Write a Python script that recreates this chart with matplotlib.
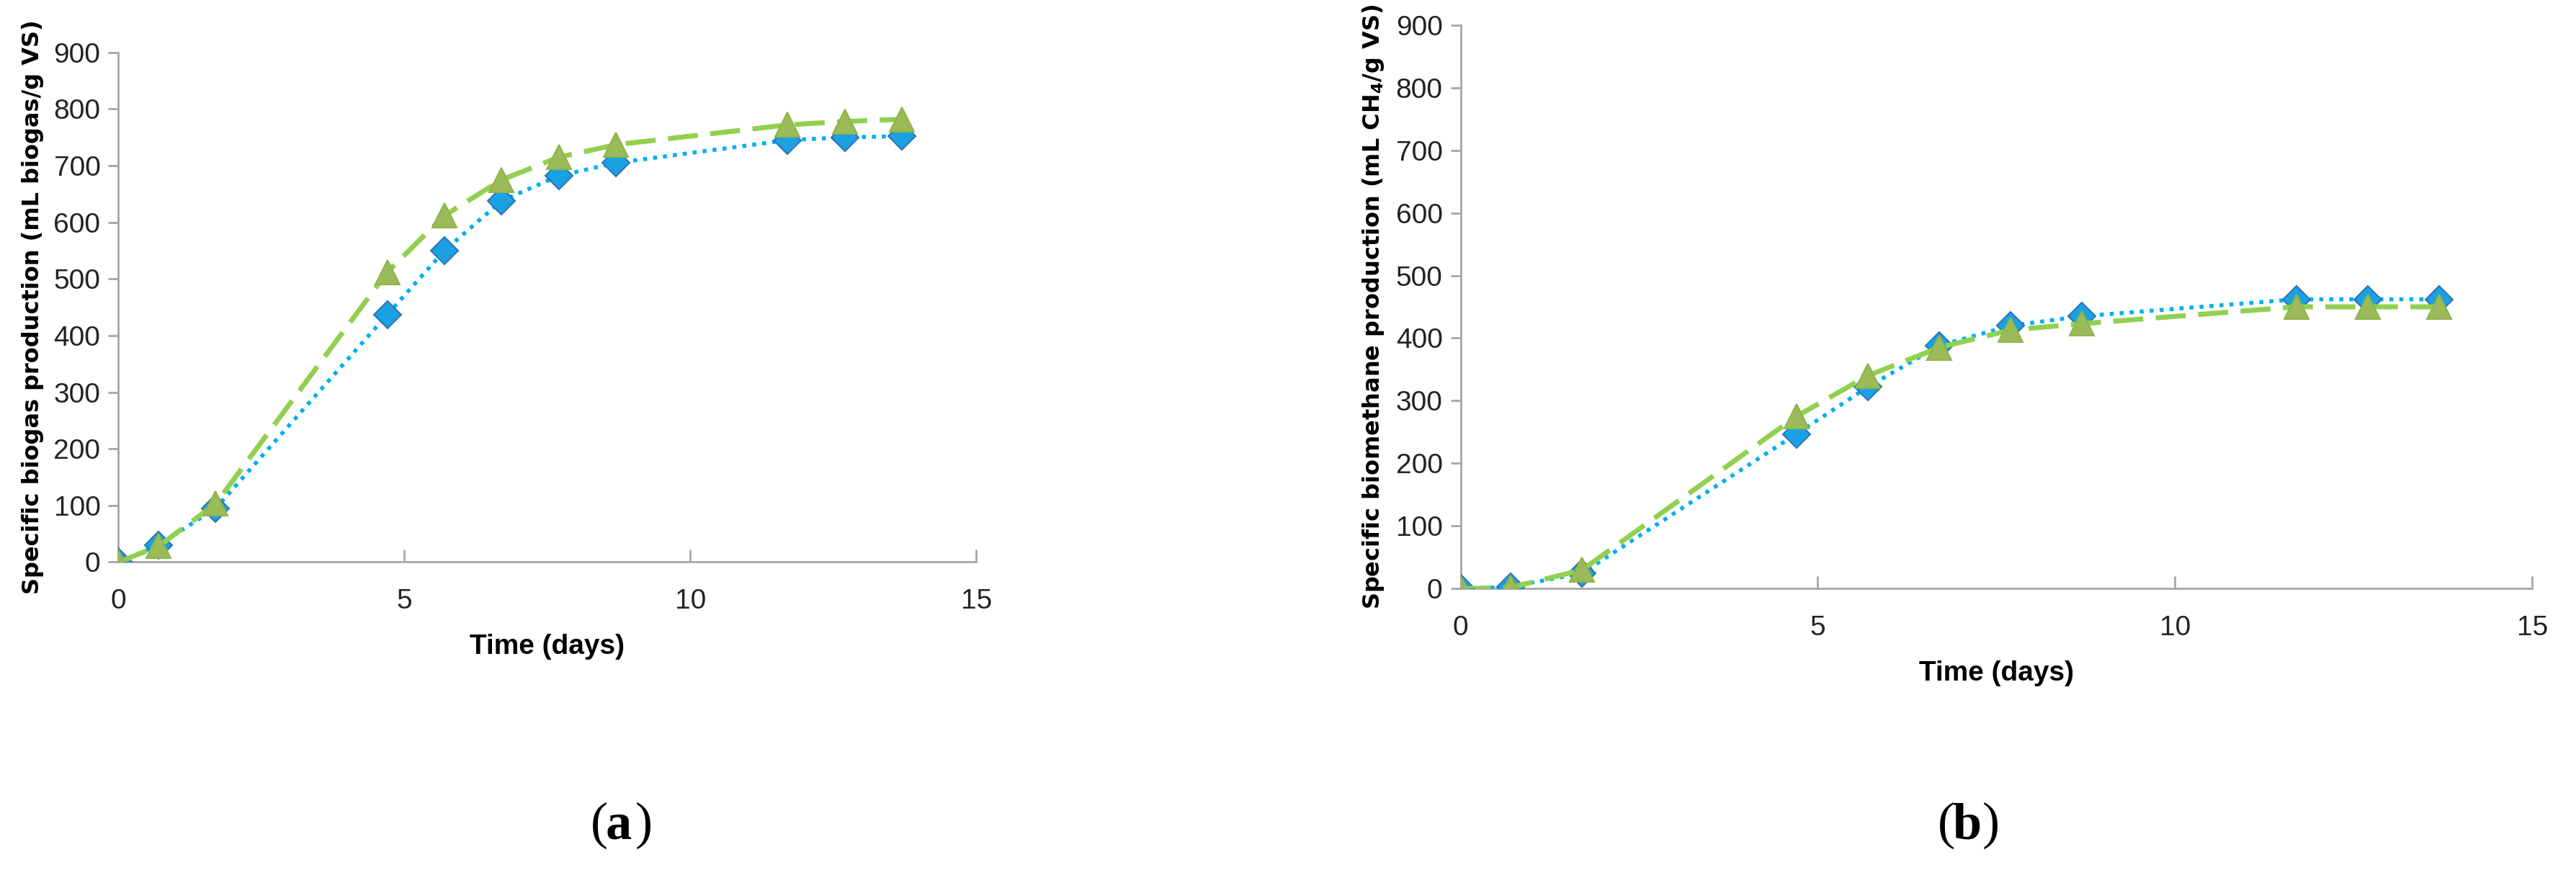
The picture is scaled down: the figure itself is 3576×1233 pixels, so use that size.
import matplotlib.pyplot as plt

days = [0, 0.7, 1.7, 4.7, 5.7, 6.7, 7.7, 8.7, 11.7, 12.7, 13.7]
biogas_blue = [0, 30, 95, 437, 550, 638, 682, 705, 745, 750, 752]
biogas_green = [0, 28, 103, 512, 612, 675, 715, 737, 772, 778, 782]
methane_blue = [0, 3, 25, 247, 322, 388, 420, 435, 462, 462, 462]
methane_green = [0, 2, 30, 275, 340, 385, 413, 423, 450, 450, 450]
x_ticks = [0, 5, 10, 15]
y_ticks = list(range(0, 1000, 100))

tick_font = ['Liberation Sans', 'DejaVu Sans']
label_font = ['DejaVu Sans']

fig = plt.figure(figsize=(35.76, 12.33), dpi=100)
ax_a = fig.add_axes([0.046, 0.367, 0.333, 0.574])
ax_b = fig.add_axes([0.567, 0.337, 0.416, 0.635])


def draw(ax, blue, green, ylabel):
    ax.plot(days, blue, linestyle=(0, (1, 1.5)), color='#00B0F0', lw=4,
            marker='D', ms=19, mfc='#1BA1E2', mec='#2E75B6', mew=1.5, zorder=3)
    ax.plot(days, green, linestyle=(0, (6, 2.5)), color='#92D050', lw=5,
            marker='^', ms=24, mfc='#9BBB59', mec='#8DB64A', mew=1.5, zorder=4)
    ax.set_xlim(0, 15)
    ax.set_ylim(0, 900)
    ax.set_xticks(x_ticks)
    ax.set_yticks(y_ticks)
    for s in ['top', 'right']:
        ax.spines[s].set_visible(False)
    for s in ['left', 'bottom']:
        ax.spines[s].set_color('#A6A6A6')
        ax.spines[s].set_linewidth(2)
    ax.tick_params(axis='x', direction='in', length=12, width=2, color='#A6A6A6', pad=26)
    ax.tick_params(axis='y', direction='out', length=10, width=2, color='#A6A6A6', pad=8)
    for lab in ax.get_xticklabels() + ax.get_yticklabels():
        lab.set_family(tick_font)
        lab.set_fontsize(28)
        lab.set_color('#222222')
    ax.set_xlabel('Time (days)', family=tick_font, fontsize=28, fontweight='bold', labelpad=20)
    ax.set_ylabel(ylabel, family=label_font, fontsize=23, fontweight='bold', labelpad=10)


draw(ax_a, biogas_blue, biogas_green, 'Specific biogas production (mL biogas/g VS)')
draw(ax_b, methane_blue, methane_green,
     r'Specific biomethane production (mL CH$_{\mathbf{4}}$/g VS)')

for x, letter in [(0.235, 'a'), (0.758, 'b')]:
    fig.text(x + 0.001, 0.07, '(', family='Liberation Serif', fontsize=52, ha='right', va='center')
    fig.text(x, 0.07, letter, family='Liberation Serif', fontsize=52, fontweight='bold', ha='left', va='center')
    fig.text(x + 0.0115, 0.07, ')', family='Liberation Serif', fontsize=52, ha='left', va='center')

fig.savefig('out.png', dpi=100, facecolor='white')
